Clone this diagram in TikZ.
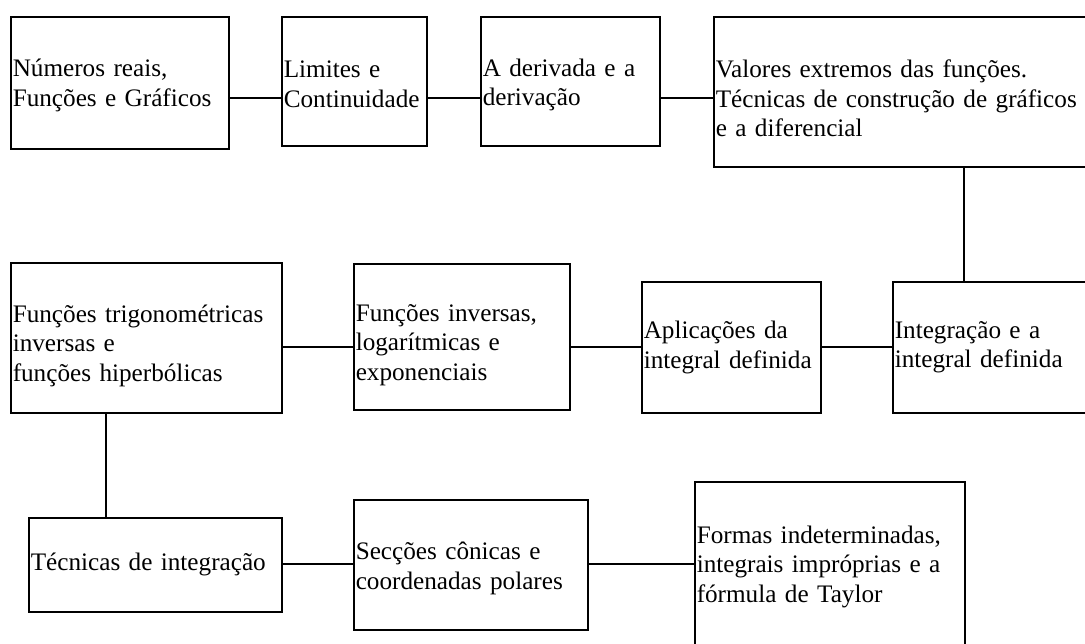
\documentclass[tikz,border=0pt]{standalone}
\usepackage{fontspec}
\setmainfont{Liberation Serif}
\usetikzlibrary{positioning,calc}

\begin{document}
\begin{tikzpicture}[
    x=1pt, y=-1pt,
    topic/.style={draw, rectangle, line width=1.5pt, anchor=north west, align=left, inner xsep=2pt, inner ysep=0pt, font=\fontsize{25.2}{29.5}\selectfont},
    textdrop/.style={execute at begin node={\rule{0pt}{#1}}},
    link/.style={line width=1.5pt}
]
\useasboundingbox (0,0) rectangle (1085,643);
\clip (0,0) rectangle (1085,643);
% levels of the connectors
\coordinate (row1) at (0,98);
\coordinate (row2) at (0,347);
\coordinate (row3) at (0,564);
\coordinate (col1) at (106,0);

\node[topic, textdrop=23pt, text width=214pt, minimum height=132pt] (reais) at (10,16) {Números reais,\\Funções e Gráficos};
\node[topic, textdrop=23pt, text width=141pt, minimum height=129pt] (limites) at (281,16) {Limites e\\Continuidade};
\node[topic, textdrop=25pt, text width=175pt, minimum height=129pt] (derivada) at (480,16) {A derivada e a\\derivação};
\node[topic, textdrop=31pt, text width=496pt, minimum height=150pt] (extremos) at (713,16) {Valores extremos das funções.\\Técnicas de construção de gráficos\\e a diferencial};

\node[topic, textdrop=33pt, text width=267pt, minimum height=150pt] (trig) at (10,262) {Funções trigonométricas\\inversas e\\funções hiperbólicas};
\node[topic, textdrop=33pt, text width=212pt, minimum height=146pt] (inversas) at (353,263) {Funções inversas,\\logarítmicas e\\exponenciais};
\node[topic, text width=175pt, minimum height=131pt] (aplicacoes) at (641,281) {Aplicações da\\integral definida};
\node[topic, text width=206pt, minimum height=131pt] (integracao) at (892,281) {Integração e a\\integral definida};

\node[topic, text width=249pt, minimum height=94pt] (tecnicas) at (28,517) {Técnicas de integração};
\node[topic, textdrop=25pt, text width=230pt, minimum height=130pt] (conicas) at (353,499) {Secções cônicas e\\coordenadas polares};
\node[topic, text width=266pt, minimum height=170pt] (formas) at (694,481) {Formas indeterminadas,\\integrais impróprias e a\\fórmula de Taylor};

% connectors
\draw[link] (reais.east |- row1) -- (limites.west |- row1);
\draw[link] (limites.east |- row1) -- (derivada.west |- row1);
\draw[link] (derivada.east |- row1) -- (extremos.west |- row1);
\draw[link] (extremos.south) -- (extremos.south |- integracao.north);
\draw[link] (aplicacoes.east |- row2) -- (integracao.west |- row2);
\draw[link] (inversas.east |- row2) -- (aplicacoes.west |- row2);
\draw[link] (trig.east |- row2) -- (inversas.west |- row2);
\draw[link] (trig.south -| col1) -- (tecnicas.north -| col1);
\draw[link] (tecnicas.east |- row3) -- (conicas.west |- row3);
\draw[link] (conicas.east |- row3) -- (formas.west |- row3);
\end{tikzpicture}
\end{document}
